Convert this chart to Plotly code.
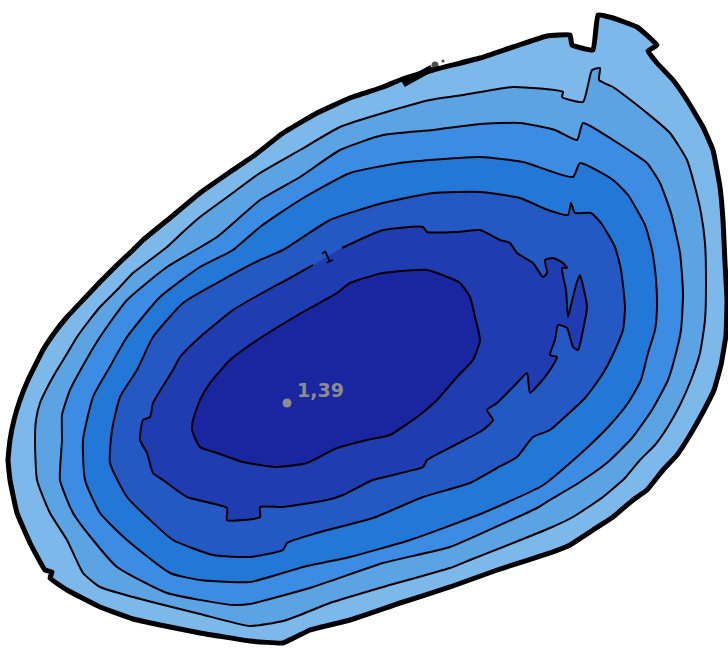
import plotly.graph_objects as go

# Depth contour map of a small lake (local grid units, rows increase southward).
# Each isobath is a closed polyline: x = easting, y = southing.

shore_x = [10, 8, 10, 14, 20, 28, 43, 55, 67, 83, 100, 118, 133, 143, 170, 200, 230, 255, 283, 317, 350, 383, 400, 433, 480, 513, 547, 570, 572, 593, 598, 613, 637, 657, 648, 657, 673, 687, 703, 713, 720, 723, 725, 727, 726, 721, 714, 703, 690, 677, 663, 647, 633, 613, 593, 570, 550, 500, 450, 400, 350, 310, 283, 250, 200, 160, 133, 100, 67, 50, 52, 45, 30, 17, 10]
shore_y = [480, 460, 440, 420, 400, 380, 350, 332, 317, 300, 282, 264, 250, 240, 218, 193, 172, 155, 133, 113, 98, 87, 80, 70, 58, 47, 36, 35, 45, 50, 15, 18, 27, 45, 51, 63, 80, 100, 127, 150, 187, 220, 263, 300, 335, 365, 390, 412, 435, 455, 470, 490, 500, 517, 530, 545, 553, 569, 587, 603, 620, 630, 643, 641, 633, 625, 619, 607, 590, 578, 572, 570, 543, 513, 480]

d02_x = [37, 35, 36, 40, 48, 57, 68, 77, 88, 100, 117, 133, 150, 167, 183, 200, 230, 260, 300, 340, 383, 430, 463, 513, 563, 562, 583, 588, 592, 600, 599, 613, 620, 647, 670, 687, 695, 701, 705, 706, 705, 700, 691, 680, 667, 655, 640, 625, 603, 573, 550, 503, 470, 450, 383, 330, 300, 283, 250, 200, 133, 100, 83, 67, 50, 37]
d02_y = [480, 440, 420, 403, 386, 370, 352, 337, 322, 307, 290, 273, 260, 247, 232, 217, 195, 173, 150, 127, 113, 100, 95, 87, 92, 97, 102, 85, 70, 68, 80, 87, 92, 113, 133, 160, 187, 213, 243, 280, 320, 353, 380, 405, 428, 445, 460, 478, 497, 517, 528, 547, 560, 568, 587, 603, 615, 621, 626, 614, 597, 587, 573, 540, 513, 480]

d04_x = [62, 60, 73, 93, 117, 167, 233, 250, 313, 383, 450, 500, 537, 550, 580, 608, 632, 652, 668, 675, 681, 683, 680, 671, 660, 647, 633, 613, 583, 577, 555, 520, 480, 433, 383, 340, 300, 260, 217, 167, 127, 100, 85, 70, 62, 62]
d04_y = [440, 480, 513, 540, 567, 593, 605, 604, 587, 563, 547, 525, 508, 500, 482, 462, 438, 410, 380, 357, 330, 293, 253, 213, 183, 163, 153, 140, 123, 140, 130, 123, 124, 130, 135, 150, 177, 200, 237, 267, 300, 337, 362, 390, 415, 440]

d06_x = [83, 85, 100, 127, 170, 200, 250, 303, 350, 410, 483, 540, 550, 570, 590, 610, 628, 641, 648, 655, 657, 656, 652, 645, 628, 613, 580, 573, 523, 480, 400, 350, 300, 260, 233, 200, 160, 127, 108, 93, 83]
d06_y = [440, 480, 513, 540, 573, 580, 582, 567, 557, 540, 513, 487, 480, 463, 445, 425, 403, 380, 353, 330, 307, 280, 250, 225, 195, 180, 163, 177, 162, 157, 163, 173, 200, 227, 250, 267, 297, 337, 370, 397, 440]

d08_x = [112, 110, 127, 150, 173, 213, 250, 283, 287, 317, 373, 423, 470, 497, 517, 533, 550, 567, 585, 595, 605, 615, 623, 625, 621, 615, 601, 591, 575, 571, 568, 548, 520, 480, 433, 383, 330, 283, 260, 217, 183, 153, 137, 120, 112]
d08_y = [430, 463, 497, 520, 540, 555, 557, 550, 543, 533, 518, 497, 483, 468, 457, 437, 430, 415, 398, 385, 370, 350, 330, 307, 270, 247, 223, 213, 213, 203, 215, 210, 198, 192, 193, 203, 220, 250, 260, 283, 303, 337, 370, 397, 430]

# 1.0 m isobath, opened where its label sits
d10_x = [342, 383, 423, 427, 457, 480, 500, 510, 517, 533, 543, 547, 545, 553, 563, 567, 562, 566, 568, 571, 576, 580, 584, 587, 583, 578, 573, 567, 558, 555, 550, 557, 550, 540, 530, 527, 517, 497, 487, 493, 483, 455, 427, 423, 373, 343, 327, 283, 260, 260, 227, 227, 187, 163, 153, 147, 140, 143, 150, 153, 173, 180, 200, 233, 255, 290, 313]
d10_y = [248, 230, 227, 232, 232, 230, 240, 243, 253, 263, 277, 273, 260, 258, 263, 268, 268, 290, 317, 305, 285, 275, 290, 307, 330, 350, 347, 328, 325, 340, 355, 357, 370, 383, 393, 373, 383, 403, 410, 420, 430, 445, 460, 467, 480, 495, 500, 507, 507, 517, 520, 508, 497, 480, 473, 453, 440, 420, 417, 403, 370, 357, 337, 310, 297, 278, 265]

d12_x = [193, 192, 200, 217, 243, 277, 307, 337, 367, 390, 417, 437, 457, 473, 480, 475, 470, 460, 427, 383, 350, 337, 303, 273, 247, 230, 210, 200, 193]
d12_y = [420, 430, 447, 453, 462, 467, 463, 448, 440, 435, 417, 400, 377, 360, 340, 317, 297, 283, 270, 273, 283, 293, 312, 330, 347, 360, 383, 400, 420]

levels = [0.0, 0.2, 0.4, 0.6, 0.8, 1.0, 1.2]
band_colors = ["#7cb9ea", "#5ba3e3", "#3b8ce2", "#2277d7", "#2459c4", "#1f3cb0", "#1a25a0"]
isobaths = [(shore_x, shore_y), (d02_x, d02_y), (d04_x, d04_y), (d06_x, d06_y),
            (d08_x, d08_y), (d10_x, d10_y), (d12_x, d12_y)]

# deepest sounding
max_depth = 1.39
max_x, max_y = 287, 403

SMOOTH = 0.5
SHORE_SMOOTH = 0.3

fig = go.Figure()

# filled depth bands, shallow to deep
for lev, (xs, ys), col in zip(levels, isobaths, band_colors):
    if lev == 1.0:
        xs, ys = xs + xs[:1], ys + ys[:1]
    sm = SHORE_SMOOTH if lev == 0.0 else SMOOTH
    fig.add_trace(go.Scatter(x=xs, y=ys, mode="lines", fill="toself", fillcolor=col,
                             line=dict(width=0, shape="spline", smoothing=sm),
                             hoverinfo="skip", showlegend=False))

# isobath lines
for lev, (xs, ys) in zip(levels, isobaths):
    if lev == 0.0:
        continue
    fig.add_trace(go.Scatter(x=xs, y=ys, mode="lines",
                             line=dict(color="black", width=2, shape="spline", smoothing=SMOOTH),
                             hoverinfo="skip", showlegend=False))

# shoreline
fig.add_trace(go.Scatter(x=shore_x, y=shore_y, mode="lines",
                         line=dict(color="black", width=5, shape="spline", smoothing=SHORE_SMOOTH),
                         hoverinfo="skip", showlegend=False))

# small rocks along the north shore
rock_x = [403, 410, 418, 426, 432]
rock_y = [84, 80, 76, 72, 68]
fig.add_trace(go.Scatter(x=rock_x, y=rock_y, mode="lines",
                         line=dict(color="black", width=7),
                         hoverinfo="skip", showlegend=False))
fig.add_trace(go.Scatter(x=[435, 443], y=[65, 61], mode="markers",
                         marker=dict(color="black", size=[7, 3], line=dict(width=0)),
                         hoverinfo="skip", showlegend=False))

# deepest point
fig.add_trace(go.Scatter(x=[max_x], y=[max_y], mode="markers",
                         marker=dict(color="#8c8c8c", size=9, line=dict(width=0)),
                         hoverinfo="skip", showlegend=False))
fig.add_annotation(x=max_x + 8, y=max_y - 13, xanchor="left", yanchor="middle",
                   text=f"{max_depth:.2f}".replace(".", ","), showarrow=False,
                   font=dict(family="DejaVu Sans", size=19, color="#8c8c8c", weight="bold"))

# isobath label
fig.add_annotation(x=327, y=257, text="1", showarrow=False, textangle=-25,
                   font=dict(family="DejaVu Sans", size=17, color="black"))

fig.update_xaxes(range=[0, 728], visible=False, showgrid=False, zeroline=False)
fig.update_yaxes(range=[648, 0], visible=False, showgrid=False, zeroline=False)
fig.update_layout(width=728, height=648, margin=dict(l=0, r=0, t=0, b=0),
                  paper_bgcolor="white", plot_bgcolor="white", showlegend=False)

fig.write_html("out.html")
